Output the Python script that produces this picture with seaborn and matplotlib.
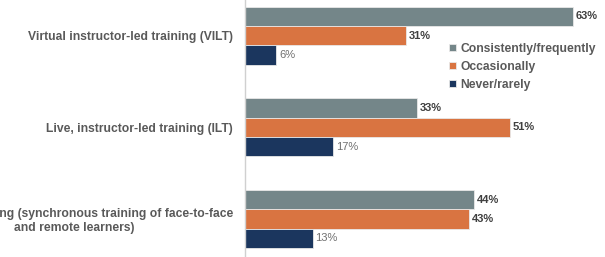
import numpy as np
import pandas as pd
import matplotlib
matplotlib.use("Agg")
import matplotlib.pyplot as plt
import seaborn as sns

categories = ['Virtual instructor-led training (VILT)',
              'Live, instructor-led training (ILT)',
              'Blended learning (synchronous training of face-to-face\nand remote learners)']
series = ['Consistently/frequently', 'Occasionally', 'Never/rarely']
consistently = [63, 33, 44]
occasionally = [31, 51, 43]
never = [6, 17, 13]
colors = ['#748689', '#D97441', '#1B365E']

df = pd.DataFrame({
    'training': categories * 3,
    'freq': [series[0]] * 3 + [series[1]] * 3 + [series[2]] * 3,
    'pct': consistently + occasionally + never,
})

sns.set_style('white')
plt.rcParams['font.family'] = ['Liberation Sans', 'DejaVu Sans']

fig = plt.figure(figsize=(6.05, 2.57), dpi=100)
ax = fig.add_axes([245 / 605, 0, 1 - 245 / 605, 1])
sns.barplot(data=df, y='training', x='pct', hue='freq', order=categories, hue_order=series,
            palette=colors, saturation=1, orient='h', width=0.63, edgecolor='#e8e8e8',
            linewidth=0.6, ax=ax)

ax.set_xlim(0, 69.2)
ax.set_ylim(2.415, -0.39)
ax.set_xlabel('')
ax.set_ylabel('')
ax.set_xticks([])
for s in ['top', 'right', 'bottom']:
    ax.spines[s].set_visible(False)
ax.spines['left'].set_color('#d0d0d0')
ax.spines['left'].set_linewidth(1)
ax.tick_params(axis='y', length=0, pad=8.5)
for lbl in ax.get_yticklabels():
    lbl.set_fontsize(8.7)
    lbl.set_fontweight('bold')
    lbl.set_color('#595959')
    lbl.set_multialignment('center')

for i, cont in enumerate(ax.containers):
    bold = i < 2
    ax.bar_label(cont, labels=[f'{int(v)}%' for v in cont.datavalues], padding=2,
                 fontsize=8, fontweight='bold' if bold else 'normal',
                 color='#404040' if bold else '#707070')

leg = ax.legend(loc='upper left', bbox_to_anchor=(0.537, 0.876), frameon=False,
                handlelength=0.6, handleheight=0.6, handletextpad=0.3, labelspacing=0.5,
                prop={'size': 8.7, 'weight': 'bold'})
for t in leg.get_texts():
    t.set_color('#595959')

fig.savefig('out.png', dpi=100)
